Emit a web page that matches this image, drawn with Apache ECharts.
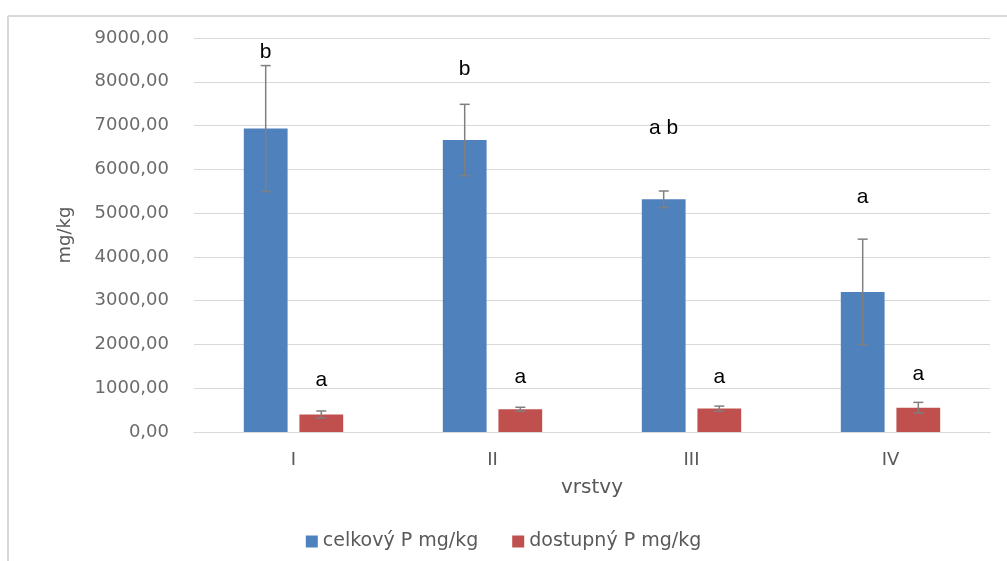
<!DOCTYPE html>
<html>
<head>
<meta charset="utf-8">
<script src="https://cdn.jsdelivr.net/npm/echarts@6/dist/echarts.min.js"></script>
<style>html,body{margin:0;padding:0;background:#fff;}#c{width:1007px;height:561px;}</style>
</head>
<body>
<div id="c"></div>
<script>
var categories = ['I', 'II', 'III', 'IV'];
var seriesNames = ['celkový P mg/kg', 'dostupný P mg/kg'];
var celkovy = [6930, 6670, 5315, 3200];
var celkovyErr = [1440, 815, 190, 1205];
var dostupny = [400, 520, 535, 555];
var dostupnyErr = [80, 45, 57, 122];
var celkovyLetters = ['b', 'b', 'a b', 'a'];
var celkovyLetterAt = [8680, 8290, 6945, 5370];
var dostupnyLetters = ['a', 'a', 'a', 'a'];
var dostupnyLetterAt = [1190, 1255, 1255, 1325];
var yTicks = { min: 0, max: 9000, interval: 1000 };

var BAR_W = 0.22, BAR_GAP = 0.27;
var colors = ['#4f81bd', '#c0504d'];

function errSeries(values, errs, letters, letterAt, side) {
  var data = values.map(function (v, i) { return [i, v, errs[i], letterAt[i], letters[i]]; });
  return {
    type: 'custom',
    z: 5,
    silent: true,
    data: data,
    renderItem: function (params, api) {
      var band = api.size([1, 0])[0];
      var bw = band * BAR_W;
      var off = side * (bw + bw * BAR_GAP) / 2;
      var c = api.coord([api.value(0), api.value(1)]);
      var x = c[0] + off;
      var top = api.coord([api.value(0), api.value(1) + api.value(2)])[1];
      var bot = api.coord([api.value(0), api.value(1) - api.value(2)])[1];
      var ly = api.coord([api.value(0), api.value(3)])[1];
      var st = { stroke: '#7f7f7f', lineWidth: 1.5 };
      var cap = 5;
      return {
        type: 'group',
        children: [
          { type: 'line', shape: { x1: x, y1: top, x2: x, y2: bot }, style: st },
          { type: 'line', shape: { x1: x - cap, y1: top, x2: x + cap, y2: top }, style: st },
          { type: 'line', shape: { x1: x - cap, y1: bot, x2: x + cap, y2: bot }, style: st },
          { type: 'text', x: x, y: ly, style: {
              text: letters[params.dataIndex], fill: '#000', font: '21px "Liberation Sans", Arial, sans-serif',
              align: 'center', verticalAlign: 'middle' } }
        ]
      };
    }
  };
}

var chart = echarts.init(document.getElementById('c'), null, { renderer: 'canvas' });
chart.setOption({
  animation: false,
  backgroundColor: '#fff',
  color: colors,
  textStyle: { fontFamily: '"DejaVu Sans", Verdana, sans-serif' },
  graphic: [
    { type: 'line', shape: { x1: 8, y1: 16, x2: 1007, y2: 16 }, style: { stroke: '#d9d9d9', lineWidth: 2 } },
    { type: 'line', shape: { x1: 8, y1: 16, x2: 8, y2: 561 }, style: { stroke: '#d9d9d9', lineWidth: 2 } }
  ],
  grid: { left: 194, right: 17, top: 38, bottom: 129, containLabel: false },
  legend: {
    bottom: 5,
    left: 'center',
    itemWidth: 12,
    itemHeight: 12,
    itemGap: 34,
    icon: 'rect',
    textStyle: { color: '#595959', fontSize: 19, fontFamily: '"DejaVu Sans", Verdana, sans-serif' },
    data: seriesNames
  },
  xAxis: {
    type: 'category',
    data: categories,
    name: 'vrstvy',
    nameLocation: 'middle',
    nameGap: 46,
    nameTextStyle: { color: '#595959', fontSize: 20 },
    axisLine: { lineStyle: { color: '#d9d9d9', width: 1 } },
    axisTick: { show: false },
    axisLabel: { color: '#595959', fontSize: 18, margin: 19 }
  },
  yAxis: {
    type: 'value',
    min: yTicks.min,
    max: yTicks.max,
    interval: yTicks.interval,
    name: 'mg/kg',
    nameLocation: 'middle',
    nameGap: 120,
    nameTextStyle: { color: '#595959', fontSize: 18 },
    axisLine: { show: false },
    axisTick: { show: false },
    splitLine: { lineStyle: { color: '#d9d9d9', width: 1 } },
    axisLabel: {
      color: '#6b6b6b', fontSize: 18, margin: 25,
      formatter: function (v) { return v.toFixed(2).replace('.', ','); }
    }
  },
  series: [
    { name: seriesNames[0], type: 'bar', data: celkovy, barWidth: (BAR_W * 100) + '%', barGap: (BAR_GAP * 100) + '%',
      itemStyle: { color: colors[0] } },
    { name: seriesNames[1], type: 'bar', data: dostupny, barWidth: (BAR_W * 100) + '%', barGap: (BAR_GAP * 100) + '%',
      itemStyle: { color: colors[1] } },
    errSeries(celkovy, celkovyErr, celkovyLetters, celkovyLetterAt, -1),
    errSeries(dostupny, dostupnyErr, dostupnyLetters, dostupnyLetterAt, 1)
  ]
});
</script>
</body>
</html>
